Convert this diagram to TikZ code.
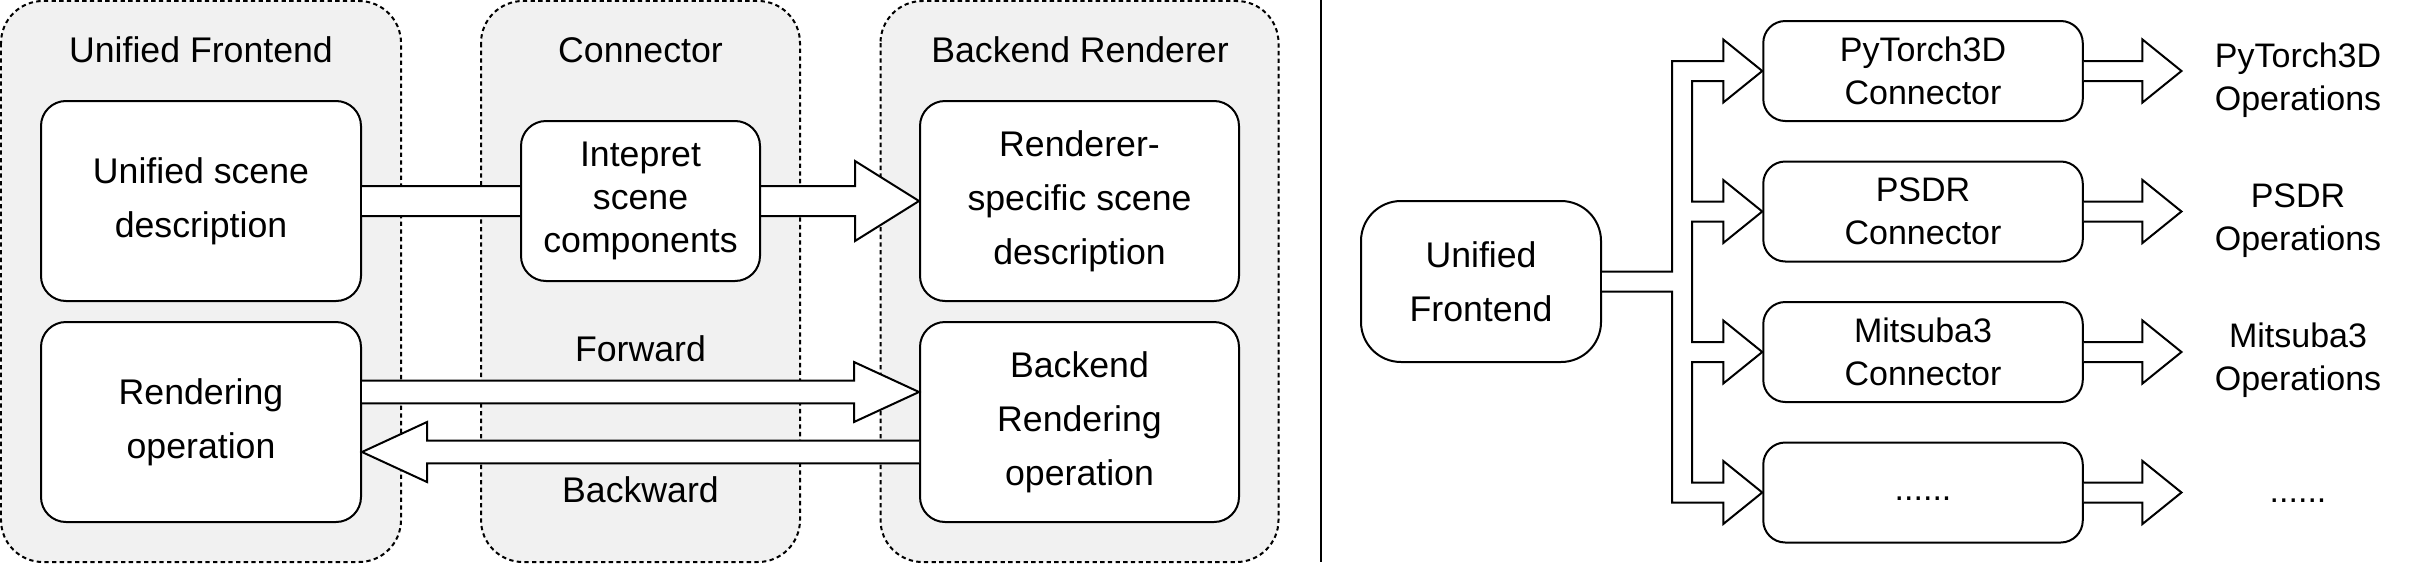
\documentclass[tikz,border=0pt]{standalone}
\usepackage{fontspec}
\setmainfont{Liberation Sans}
\usetikzlibrary{calc}
\definecolor{groupgray}{RGB}{241,241,241}

\newcommand{\fatarrow}[5]{%
	\path (#2) coordinate (fa-tip) ($(#2)!#5!(#1)$) coordinate (fa-back);
	\draw[fatbody]
	($(#1)!#3!90:(#2)$) -- ($(fa-back)!#3!90:(fa-tip)$)
	-- ($(fa-back)!#4!90:(fa-tip)$) -- (fa-tip)
	-- ($(fa-back)!#4!-90:(fa-tip)$) -- ($(fa-back)!#3!-90:(fa-tip)$)
	-- ($(#1)!#3!-90:(#2)$);%
}

\begin{document}
\begin{tikzpicture}[x=0.3pt,y=-0.3pt,
	group/.style={draw,dash pattern=on 1.3pt off 1pt,fill=groupgray,rounded corners=12.6pt,line width=0.6pt},
	box/.style={draw,fill=white,rounded corners=7.5pt,line width=0.6pt,align=center,inner sep=0pt,
		font=\fontsize{10.7}{16.2}\selectfont},
	small/.style={font=\fontsize{10.2}{12.9}\selectfont},
	lbl/.style={inner sep=0pt,font=\fontsize{10.7}{16.2}\selectfont},
	fatbody/.style={draw,fill=white,line width=0.6pt,line join=miter}
	]
	\useasboundingbox (0,0) rectangle (2422,564);
	
	\draw[group] (1,1) rectangle (401,562);
	\draw[group] (481,1) rectangle (800,562);
	\draw[group] (880.5,1) rectangle (1278.5,562);
	
	\node[lbl] (tfront) at (201,50) {Unified Frontend};
	\node[lbl] (tconn) at (640.5,50) {Connector};
	\node[lbl] (tback) at (1080,50) {Backend Renderer};
	
	\node[box,minimum width=96pt,minimum height=60pt] (sceneU) at (201,201) {Unified scene\\description};
	\node[box,minimum width=96pt,minimum height=60pt] (renderU) at (201,422) {Rendering\\operation};
	\node[box,minimum width=95.7pt,minimum height=60pt] (sceneB) at (1079.5,201) {Renderer-\\specific scene\\description};
	\node[box,minimum width=95.7pt,minimum height=60pt] (renderB) at (1079.5,422) {Backend\\Rendering\\operation};
	
	\fatarrow{sceneU.east}{sceneB.west}{4.5pt}{12pt}{19.2pt}
	\node[box,minimum width=71.7pt,minimum height=48pt,font=\fontsize{10.7}{12.9}\selectfont] (interp) at (640.5,201) {Intepret\\scene\\components};
	
	\coordinate (fwtail) at ($(renderU.east)+(0,-30)$);
	\coordinate (fwtip) at ($(renderB.west)+(0,-30)$);
	\coordinate (bwtail) at ($(renderB.west)+(0,30)$);
	\coordinate (bwtip) at ($(renderU.east)+(0,30)$);
	\fatarrow{fwtail}{fwtip}{3.4pt}{9pt}{19.5pt}
	\fatarrow{bwtail}{bwtip}{3.4pt}{9pt}{19.5pt}
	\node[lbl] (fwd) at (640.5,349) {Forward};
	\node[lbl] (bwd) at (640.5,490) {Backward};
	
	\draw[line width=0.7pt] (1321,0) -- (1321,562);
	
	\node[box,minimum width=72pt,minimum height=48.3pt,rounded corners=12pt] (uf) at (1481,281.5) {Unified\\Frontend};
	\foreach \name/\cy/\oy/\txt/\op in {
		pt/71/80/{PyTorch3D\\Connector}/{PyTorch3D\\Operations},
		ps/211.5/220.5/{PSDR\\Connector}/{PSDR\\Operations},
		mi/352/360.5/{Mitsuba3\\Connector}/{Mitsuba3\\Operations},
		etc/492.5/494/{\vphantom{Cy}......}/{\vphantom{Cy}......}}{
		\node[box,small,minimum width=95.85pt,minimum height=30pt,rounded corners=6.6pt] (\name) at (1923,\cy) {\txt};
		\node[small,align=center,inner sep=0pt] (op-\name) at (2298,\oy) {\op};
		\coordinate (\name-tip) at ($(\name.east)+(97.7,0)$);
		\fatarrow{\name.east}{\name-tip}{3pt}{9.45pt}{11.7pt}
	}
	
	\coordinate (jo) at ($(uf.east)+(70,0)$);
	\coordinate (ji) at ($(uf.east)+(90,0)$);
	\draw[fatbody] ($(uf.east)+(0,-10)$) -| ($(jo |- pt.west)+(0,-10)$)
	-- ($(pt.west)+(-39,-10)$) -- ++(0,-21.5) -- (pt.west) -- ($(pt.west)+(-39,31.5)$) -- ++(0,-21.5)
	-| ($(ji |- ps.west)+(0,-10)$)
	-- ($(ps.west)+(-39,-10)$) -- ++(0,-21.5) -- (ps.west) -- ($(ps.west)+(-39,31.5)$) -- ++(0,-21.5)
	-| ($(ji |- mi.west)+(0,-10)$)
	-- ($(mi.west)+(-39,-10)$) -- ++(0,-21.5) -- (mi.west) -- ($(mi.west)+(-39,31.5)$) -- ++(0,-21.5)
	-| ($(ji |- etc.west)+(0,-10)$)
	-- ($(etc.west)+(-39,-10)$) -- ++(0,-21.5) -- (etc.west) -- ($(etc.west)+(-39,31.5)$) -- ++(0,-21.5)
	-| ($(uf.east)+(70,10)$) -- ($(uf.east)+(0,10)$);
\end{tikzpicture}
\end{document}
